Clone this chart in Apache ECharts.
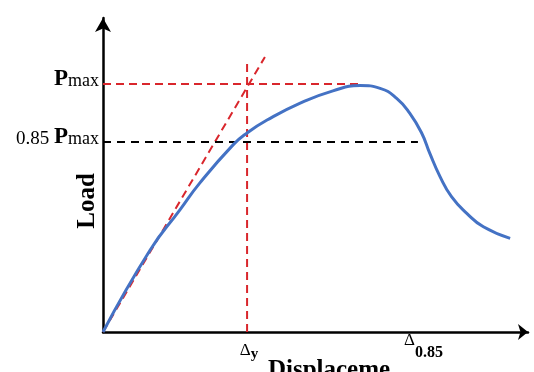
<!DOCTYPE html>
<html>
<head>
<meta charset="utf-8">
<script src="https://cdn.jsdelivr.net/npm/echarts@6/dist/echarts.min.js"></script>
<style>
  html, body { margin: 0; padding: 0; background: #fff; }
  #chart { width: 534px; height: 372px; }
</style>
</head>
<body>
<div id="chart"></div>
<script>
// load-displacement curve (arbitrary units 0-100)
var curveX = [0, 11.1, 18.1, 22.8, 30.6, 33.9, 38.6, 46.4, 54.1, 60.5, 65.2, 69.1, 72.2, 75.0, 76.9, 79.3, 82.0, 85.6, 89.5, 95.8];
var curveY = [0, 26.1, 38.9, 47.5, 59.6, 63.4, 67.5, 72.9, 76.8, 78.5, 77.6, 74.4, 69.6, 63.3, 56.9, 49.5, 43.1, 37.8, 33.5, 29.8];

// key levels
var pMax = 79.0;
var p085 = 60.5;
var dY = 33.9;
var d085 = 74.1;
var pMaxEnd = 60.7;      // where the Pmax dashed line stops
var dYTop = 85.7;        // top of the vertical dashed line at Δy
var secantEnd = [38.1, 87.6]; // end of the initial stiffness line

// tick labels
var yLabelValues = [p085, pMax];
var yLabelTexts = ['{n|0.85 }{b|P}{s|max}', '{b|P}{s|max}'];
var xLabelValues = [dY, d085];
var xLabelTexts = ['{d|Δ}{sy|y}', '{d2|Δ}{sb|0.85}'];

var serif = 'Liberation Serif';
var red = '#d9262c';

var curve = curveX.map(function (x, i) { return [x, curveY[i]]; });

var chart = echarts.init(document.getElementById('chart'));
chart.setOption({
  animation: false,
  grid: { left: 103, right: 6, top: 18, bottom: 40, outerBoundsMode: 'none', containLabel: false },
  xAxis: {
    type: 'value',
    min: 0,
    max: 100,
    name: 'Displaceme',
    nameLocation: 'middle',
    nameGap: 26,
    nameMoveOverlap: false,
    nameTextStyle: {
      fontFamily: serif, fontSize: 25, fontWeight: 'bold', color: '#000',
      padding: [0, 0, 0, 27]
    },
    axisLine: {
      lineStyle: { color: '#000', width: 2.5 },
      symbol: ['none', 'arrow'],
      symbolSize: [12, 10]
    },
    axisTick: { show: false },
    splitLine: { show: false },
    axisLabel: {
      customValues: xLabelValues,
      margin: 0,
      verticalAlign: 'top',
      formatter: function (v) {
        return xLabelTexts[xLabelValues.indexOf(v)];
      },
      rich: {
        d: { fontFamily: serif, fontSize: 17, color: '#000', verticalAlign: 'top', padding: [10, 0, 0, 4] },
        sy: { fontFamily: serif, fontSize: 15, fontWeight: 'bold', color: '#000', verticalAlign: 'top', padding: [15, 0, 0, 0] },
        d2: { fontFamily: serif, fontSize: 17, color: '#000', verticalAlign: 'top', padding: [0, 0, 0, 11] },
        sb: { fontFamily: serif, fontSize: 16, fontWeight: 'bold', color: '#000', verticalAlign: 'top', padding: [13, 0, 0, 0] }
      }
    }
  },
  yAxis: {
    type: 'value',
    min: 0,
    max: 100,
    name: 'Load',
    nameLocation: 'middle',
    nameGap: 3,
    nameMoveOverlap: false,
    nameTextStyle: {
      fontFamily: serif, fontSize: 25, fontWeight: 'bold', color: '#000',
      padding: [0, 52, 0, 0]
    },
    axisLine: {
      lineStyle: { color: '#000', width: 2.5 },
      symbol: ['none', 'arrow'],
      symbolSize: [12, 14]
    },
    axisTick: { show: false },
    splitLine: { show: false },
    axisLabel: {
      customValues: yLabelValues,
      margin: 4,
      padding: [0, 0, 10, 0],
      formatter: function (v) {
        return yLabelTexts[yLabelValues.indexOf(v)];
      },
      rich: {
        n: { fontFamily: serif, fontSize: 19, color: '#000', verticalAlign: 'bottom' },
        b: { fontFamily: serif, fontSize: 23, fontWeight: 'bold', color: '#000', verticalAlign: 'bottom' },
        s: { fontFamily: serif, fontSize: 18, color: '#000', verticalAlign: 'bottom' }
      }
    }
  },
  series: [
    {
      // initial stiffness line
      type: 'line',
      data: [[0, 0], secantEnd],
      showSymbol: false,
      lineStyle: { color: red, width: 2, type: [8, 5] }
    },
    {
      type: 'line',
      data: [[0, pMax], [pMaxEnd, pMax]],
      showSymbol: false,
      lineStyle: { color: red, width: 2, type: [8, 5] }
    },
    {
      type: 'line',
      data: [[dY, 0], [dY, dYTop]],
      showSymbol: false,
      lineStyle: { color: red, width: 2, type: [8, 5] }
    },
    {
      type: 'line',
      data: [[0, p085], [d085, p085]],
      showSymbol: false,
      lineStyle: { color: '#000', width: 2, type: [8, 6] }
    },
    {
      type: 'line',
      data: curve,
      smooth: 0.5,
      showSymbol: false,
      lineStyle: { color: '#4472c4', width: 3 }
    }
  ]
});
</script>
</body>
</html>
